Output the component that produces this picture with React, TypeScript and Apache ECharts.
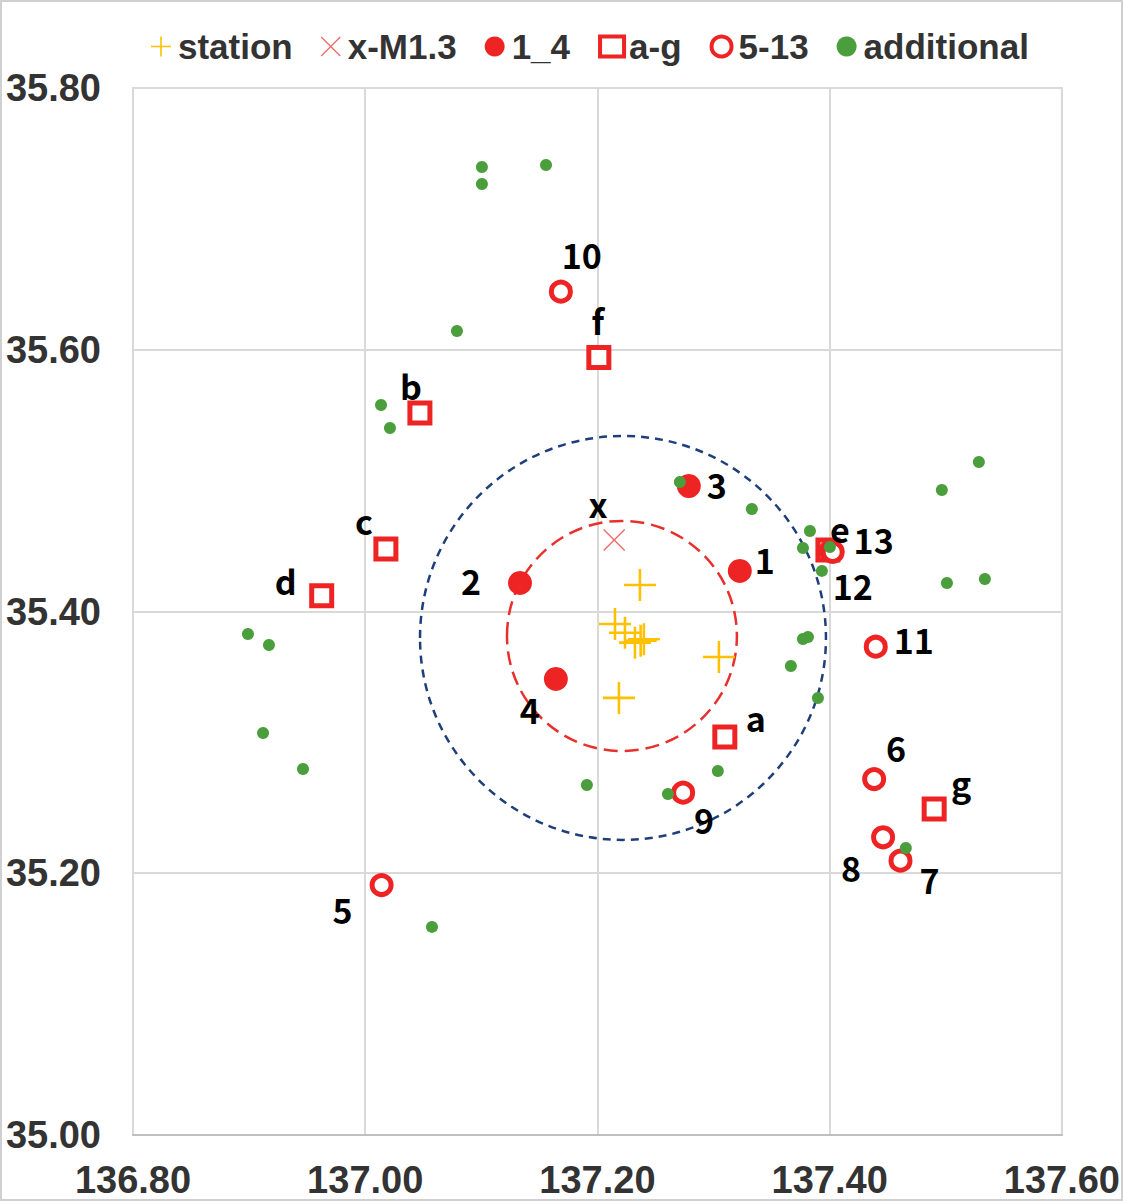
import React, { useEffect, useRef } from "react";
import * as echarts from "echarts";

// ---- data ----
const stationLon = [137.2366, 137.2151, 137.2237, 137.2323, 137.2372, 137.24, 137.3046, 137.2185];
const stationLat = [35.4202, 35.3904, 35.3838, 35.3762, 35.3777, 35.3788, 35.3653, 35.334];

const mainNames = ["x"];
const mainLon = [137.2144];
const mainLat = [35.4546];

const evNames = ["1", "2", "3", "4"];
const evLon = [137.3226, 137.1333, 137.2787, 137.1642];
const evLat = [35.431, 35.4218, 35.4959, 35.3485];

const sqNames = ["a", "b", "c", "d", "e", "f", "g"];
const sqLon = [137.3097, 137.0471, 137.0178, 136.9625, 137.3985, 137.2012, 137.49];
const sqLat = [35.3042, 35.5517, 35.4478, 35.4121, 35.447, 35.594, 35.2491];

const ringNames = ["5", "6", "7", "8", "9", "10", "11", "12", "13"];
const ringLon = [137.0141, 137.4383, 137.461, 137.446, 137.2738, 137.1685, 137.4397, 137.401, 137.4026];
const ringLat = [35.191, 35.272, 35.2096, 35.2275, 35.2616, 35.6444, 35.3731, 35.4465, 35.4455];

const addLon = [
  137.1005, 137.1005, 137.1557, 137.079, 137.0136, 137.0213, 136.899, 136.9171, 136.912, 136.9464,
  137.0575, 137.271, 137.333, 137.5285, 137.4966, 137.383, 137.377, 137.4002, 137.3933, 137.501,
  137.5337, 137.3813, 137.377, 137.3666, 137.3899, 137.3037, 137.2607, 137.4656, 137.1909,
];
const addLat = [
  35.7396, 35.7266, 35.7412, 35.6143, 35.5578, 35.5402, 35.3828, 35.3744, 35.3072, 35.2797,
  35.159, 35.499, 35.4783, 35.5142, 35.4928, 35.4615, 35.4485, 35.4493, 35.431, 35.4218,
  35.4248, 35.3805, 35.379, 35.3584, 35.3339, 35.2781, 35.2606, 35.2193, 35.2674,
];

const seriesNames = ["station", "x-M1.3", "1_4", "a-g", "5-13", "additional"];

const xTicks = { min: 136.8, max: 137.6, interval: 0.2 };
const yTicks = { min: 35.0, max: 35.8, interval: 0.2 };

// dashed rings: centre and radii in degrees
const innerRing = { lon: 137.2211, lat: 35.3813, rLon: 0.099, rLat: 0.0879 };
const outerRing = { lon: 137.222, lat: 35.3798, rLon: 0.1748, rLat: 0.1543 };

// ---- styling (label offsets in px) ----
const labelOffsets: Record<string, [number, number]> = {
  x: [-16, -37],
  "1": [25, -11],
  "2": [-49, -2],
  "3": [28, -1],
  "4": [-26, 31],
  a: [31, -19],
  b: [-9, -27],
  c: [-22, -28],
  d: [-36, -15],
  e: [12, -21],
  f: [-1, -37],
  g: [27, -26],
  "5": [-39, 24],
  "6": [22, -32],
  "7": [29, 19],
  "8": [-32, 30],
  "9": [21, 27],
  "10": [21, -37],
  "11": [38, -7],
  "12": [22, 35],
  "13": [41, -12],
};

const RED = "#EE2424";
const FONT = "'Liberation Sans', Arial, sans-serif";
const LABEL_FONT = "'Noto Sans CJK JP', 'Noto Sans', sans-serif";

const plusPath = "path://M9.2,0H10.8V20H9.2ZM0,9.2H20V10.8H0Z";
const crossPath =
  "path://M0,0.9L0.9,0L10,9.1L19.1,0L20,0.9L10.9,10L20,19.1L19.1,20L10,10.9L0.9,20L0,19.1L9.1,10Z";

function labelled(names: string[], lon: number[], lat: number[]) {
  return names.map((n, i) => ({
    name: n,
    value: [lon[i], lat[i]],
    label: { offset: labelOffsets[n] || [0, 0] },
  }));
}

const pointLabel = {
  show: true,
  position: "inside",
  formatter: "{b}",
  color: "#000",
  fontSize: 34,
  fontWeight: "bold",
  fontFamily: LABEL_FONT,
};

export default function App() {
  const ref = useRef<HTMLDivElement>(null);
  useEffect(() => {
    if (!ref.current) return;
    const chart = echarts.init(ref.current, null, { renderer: "svg" });
    const axisLabel = {
      fontSize: 38,
      fontWeight: "bold",
      color: "#333",
      fontFamily: FONT,
      formatter: (v: number) => v.toFixed(2),
      showMinLabel: true,
      showMaxLabel: true,
    };
    const option: any = {
      animation: false,
      backgroundColor: "#fff",
      legend: {
        top: 24,
        left: 146,
        itemGap: 28,
        itemWidth: 24,
        itemHeight: 20,
        textStyle: { fontSize: 35, fontWeight: "bold", color: "#333", fontFamily: FONT },
        data: seriesNames.map((n) =>
          n === "a-g" || n === "5-13"
            ? { name: n, itemStyle: { borderWidth: 4 } }
            : { name: n }
        ),
      },
      grid: {
        left: 133,
        right: 61,
        top: 88,
        bottom: 66,
        show: true,
        borderColor: "#d9d9d9",
        borderWidth: 2,
      },
      xAxis: {
        type: "value",
        min: xTicks.min,
        max: xTicks.max,
        interval: xTicks.interval,
        axisLabel: { ...axisLabel, margin: 26 },
        axisTick: { show: false },
        axisLine: { show: true, lineStyle: { color: "#bfbfbf", width: 2 } },
        splitLine: { show: true, lineStyle: { color: "#d9d9d9", width: 2 } },
      },
      yAxis: {
        type: "value",
        min: yTicks.min,
        max: yTicks.max,
        interval: yTicks.interval,
        axisLabel: { ...axisLabel, margin: 32 },
        axisTick: { show: false },
        axisLine: { show: true, lineStyle: { color: "#d9d9d9", width: 2 } },
        splitLine: { show: true, lineStyle: { color: "#d9d9d9", width: 2 } },
      },
      series: [
        {
          name: seriesNames[0],
          type: "scatter",
          symbol: plusPath,
          symbolSize: 32,
          itemStyle: { color: "#FFC000", opacity: 1 },
          emphasis: { disabled: true },
          data: stationLon.map((x, i) => [x, stationLat[i]]),
        },
        {
          name: seriesNames[1],
          type: "scatter",
          symbol: crossPath,
          symbolSize: 22,
          itemStyle: { color: "#F06A6A", opacity: 1 },
          label: pointLabel,
          emphasis: { disabled: true },
          data: labelled(mainNames, mainLon, mainLat),
        },
        {
          name: seriesNames[2],
          type: "scatter",
          symbol: "circle",
          symbolSize: 24,
          itemStyle: { color: RED, opacity: 1 },
          label: pointLabel,
          emphasis: { disabled: true },
          data: labelled(evNames, evLon, evLat),
        },
        {
          name: seriesNames[3],
          type: "scatter",
          symbol: "rect",
          symbolSize: 20,
          itemStyle: { color: "#fff", borderColor: RED, borderWidth: 5, opacity: 1 },
          label: pointLabel,
          emphasis: { disabled: true },
          data: labelled(sqNames, sqLon, sqLat),
        },
        {
          name: seriesNames[4],
          type: "scatter",
          symbol: "circle",
          symbolSize: 19,
          itemStyle: { color: "#fff", borderColor: RED, borderWidth: 5, opacity: 1 },
          label: pointLabel,
          emphasis: { disabled: true },
          data: labelled(ringNames, ringLon, ringLat),
        },
        {
          name: seriesNames[5],
          type: "scatter",
          symbol: "circle",
          symbolSize: 12,
          itemStyle: { color: "#4A9E3B", opacity: 1 },
          emphasis: { disabled: true },
          data: addLon.map((x, i) => [x, addLat[i]]),
        },
      ],
    };
    chart.setOption(option);

    const ring = (r: typeof innerRing) => {
      const c = chart.convertToPixel({ gridIndex: 0 }, [r.lon, r.lat]) as number[];
      const e = chart.convertToPixel({ gridIndex: 0 }, [r.lon + r.rLon, r.lat + r.rLat]) as number[];
      return { cx: c[0], cy: c[1], rx: e[0] - c[0], ry: c[1] - e[1] };
    };
    chart.setOption({
      graphic: [
        {
          type: "rect",
          silent: true,
          z: 0,
          shape: { x: 1, y: 1, width: 1121, height: 1199 },
          style: { fill: "none", stroke: "#d0d0d0", lineWidth: 2 },
        },
        {
          type: "ellipse",
          silent: true,
          z: 1,
          shape: ring(outerRing),
          style: { fill: "none", stroke: "#1F3F7A", lineWidth: 2.5, lineDash: [8, 6] },
        },
        {
          type: "ellipse",
          silent: true,
          z: 1,
          shape: ring(innerRing),
          style: { fill: "none", stroke: "#E8302C", lineWidth: 2.5, lineDash: [14, 7] },
        },
      ],
    });
    return () => chart.dispose();
  }, []);
  return (
    <div
      ref={ref}
      style={{ position: "fixed", left: 0, top: 0, width: 1123, height: 1201 }}
    />
  );
}
